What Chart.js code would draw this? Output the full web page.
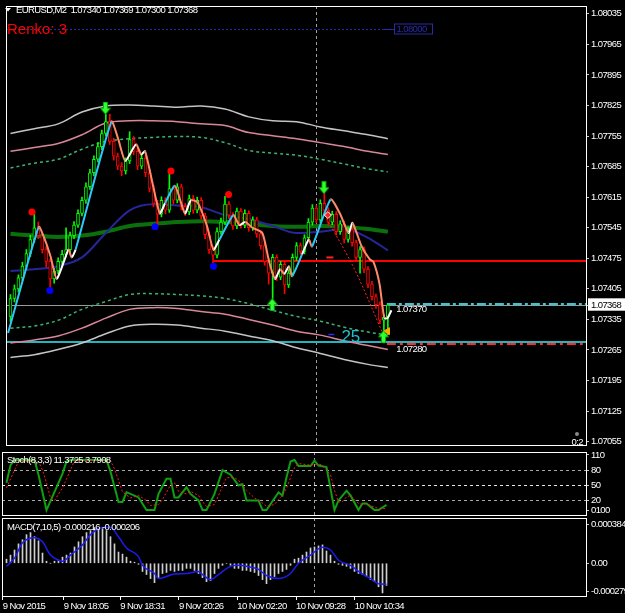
<!DOCTYPE html>
<html>
<head>
<meta charset="utf-8">
<title>EURUSD,M2</title>
<script src="https://cdn.jsdelivr.net/npm/chart.js@4.4.1/dist/chart.umd.min.js"></script>
<style>
  html, body { margin: 0; padding: 0; background: #000000; }
  body { position: relative; width: 625px; height: 613px; overflow: hidden; }
  canvas { position: absolute; left: 0; }
</style>
</head>
<body>
<canvas id="mainChart" width="625" height="452" style="top:0;width:625px;height:452px"></canvas>
<canvas id="stochChart" width="625" height="69" style="top:449px;width:625px;height:69px"></canvas>
<canvas id="macdChart" width="625" height="95" style="top:518px;width:625px;height:95px"></canvas>
<script>
// ---- data (bar index 0 = first visible M2 bar) ----
const timeLabels = ['9 Nov 2015', '9 Nov 18:05', '9 Nov 18:31', '9 Nov 20:26', '10 Nov 02:20', '10 Nov 09:28', '10 Nov 10:34'];
const timeTickBars = [-0.95, 14.3, 28.45, 43.1, 57.7, 72.4, 87.05];

const priceTicks = [1.08035, 1.07965, 1.07895, 1.07825, 1.07755, 1.07685, 1.07615, 1.07545,
    1.07475, 1.07405, 1.07368, 1.07335, 1.07265, 1.07195, 1.07125, 1.07055];
const bidPrice = 1.07368;

const opens = [1.07342, 1.07383, 1.07405, 1.07430, 1.07457, 1.07486, 1.07518, 1.07545, 1.07527, 1.07495,
    1.07468, 1.07428, 1.07446, 1.07468, 1.07484, 1.07495, 1.07527, 1.07551, 1.07578, 1.07608,
    1.07639, 1.07671, 1.07702, 1.07731, 1.07761, 1.07788, 1.07743, 1.07709, 1.07686, 1.07675,
    1.07698, 1.07747, 1.07720, 1.07686, 1.07704, 1.07671, 1.07635, 1.07601, 1.07576, 1.07608,
    1.07585, 1.07635, 1.07608, 1.07639, 1.07594, 1.07581, 1.07612, 1.07585, 1.07608, 1.07572,
    1.07529, 1.07495, 1.07482, 1.07536, 1.07558, 1.07599, 1.07574, 1.07549, 1.07583, 1.07551,
    1.07578, 1.07545, 1.07563, 1.07531, 1.07504, 1.07468, 1.07441, 1.07477, 1.07432, 1.07461,
    1.07414, 1.07441, 1.07477, 1.07504, 1.07491, 1.07522, 1.07558, 1.07590, 1.07563, 1.07601,
    1.07585, 1.07558, 1.07576, 1.07536, 1.07554, 1.07518, 1.07540, 1.07511, 1.07477, 1.07495,
    1.07450, 1.07416, 1.07387, 1.07369, 1.07333, 1.07340];
const highs = [1.07392, 1.07414, 1.07437, 1.07466, 1.07495, 1.07528, 1.07581, 1.07558, 1.07534, 1.07502,
    1.07474, 1.07452, 1.07476, 1.07493, 1.07545, 1.07535, 1.07559, 1.07586, 1.07615, 1.07648,
    1.07679, 1.07710, 1.07740, 1.07769, 1.07805, 1.07805, 1.07750, 1.07716, 1.07694, 1.07705,
    1.07765, 1.07754, 1.07727, 1.07712, 1.07710, 1.07678, 1.07642, 1.07608, 1.07616, 1.07614,
    1.07675, 1.07641, 1.07646, 1.07645, 1.07601, 1.07620, 1.07619, 1.07615, 1.07614, 1.07578,
    1.07535, 1.07501, 1.07545, 1.07567, 1.07617, 1.07605, 1.07580, 1.07590, 1.07589, 1.07586,
    1.07584, 1.07570, 1.07569, 1.07537, 1.07510, 1.07474, 1.07484, 1.07483, 1.07468, 1.07467,
    1.07449, 1.07485, 1.07511, 1.07510, 1.07529, 1.07566, 1.07598, 1.07596, 1.07609, 1.07637,
    1.07591, 1.07583, 1.07582, 1.07561, 1.07560, 1.07547, 1.07546, 1.07517, 1.07502, 1.07501,
    1.07456, 1.07422, 1.07393, 1.07375, 1.07346, 1.07369];
const lows = [1.07330, 1.07375, 1.07398, 1.07424, 1.07450, 1.07479, 1.07511, 1.07520, 1.07487, 1.07455,
    1.07400, 1.07418, 1.07440, 1.07461, 1.07478, 1.07489, 1.07520, 1.07546, 1.07572, 1.07601,
    1.07633, 1.07664, 1.07696, 1.07724, 1.07755, 1.07736, 1.07700, 1.07678, 1.07664, 1.07668,
    1.07692, 1.07712, 1.07678, 1.07680, 1.07662, 1.07627, 1.07593, 1.07547, 1.07570, 1.07577,
    1.07580, 1.07600, 1.07602, 1.07586, 1.07573, 1.07575, 1.07578, 1.07579, 1.07565, 1.07520,
    1.07486, 1.07459, 1.07476, 1.07530, 1.07552, 1.07566, 1.07541, 1.07543, 1.07544, 1.07545,
    1.07537, 1.07539, 1.07523, 1.07496, 1.07459, 1.07416, 1.07383, 1.07424, 1.07426, 1.07394,
    1.07408, 1.07435, 1.07470, 1.07484, 1.07485, 1.07516, 1.07551, 1.07556, 1.07557, 1.07578,
    1.07550, 1.07552, 1.07528, 1.07530, 1.07510, 1.07512, 1.07503, 1.07469, 1.07441, 1.07442,
    1.07408, 1.07379, 1.07360, 1.07325, 1.07281, 1.07300];
const closes = [1.07383, 1.07405, 1.07430, 1.07457, 1.07486, 1.07518, 1.07545, 1.07527, 1.07495, 1.07468,
    1.07428, 1.07446, 1.07468, 1.07484, 1.07495, 1.07527, 1.07551, 1.07578, 1.07608, 1.07639,
    1.07671, 1.07702, 1.07731, 1.07761, 1.07788, 1.07743, 1.07709, 1.07686, 1.07675, 1.07698,
    1.07747, 1.07720, 1.07686, 1.07704, 1.07671, 1.07635, 1.07601, 1.07576, 1.07608, 1.07585,
    1.07635, 1.07608, 1.07639, 1.07594, 1.07581, 1.07612, 1.07585, 1.07608, 1.07572, 1.07529,
    1.07495, 1.07482, 1.07536, 1.07558, 1.07599, 1.07574, 1.07549, 1.07583, 1.07551, 1.07578,
    1.07545, 1.07563, 1.07531, 1.07504, 1.07468, 1.07441, 1.07477, 1.07432, 1.07461, 1.07414,
    1.07441, 1.07477, 1.07504, 1.07491, 1.07522, 1.07558, 1.07590, 1.07563, 1.07601, 1.07585,
    1.07558, 1.07576, 1.07536, 1.07554, 1.07518, 1.07540, 1.07511, 1.07477, 1.07495, 1.07450,
    1.07416, 1.07387, 1.07369, 1.07333, 1.07340, 1.07368];

// envelope bands and moving averages, read every 6 bars
const bandBars = [0, 6, 12, 18, 24, 30, 36, 42, 48, 54, 60, 66, 72, 78, 84, 90, 95];
const bandOuterUp = [1.07761, 1.07772, 1.07783, 1.07810, 1.07824, 1.07826, 1.07824, 1.07821, 1.07824, 1.07817, 1.07799, 1.07790, 1.07788, 1.07776, 1.07767, 1.07758, 1.07749];
const bandMidUp = [1.07720, 1.07729, 1.07738, 1.07758, 1.07785, 1.07790, 1.07790, 1.07788, 1.07783, 1.07779, 1.07763, 1.07756, 1.07749, 1.07740, 1.07731, 1.07720, 1.07713];
const bandInnerUp = [1.07682, 1.07693, 1.07702, 1.07725, 1.07743, 1.07749, 1.07752, 1.07754, 1.07752, 1.07740, 1.07722, 1.07716, 1.07711, 1.07702, 1.07691, 1.07680, 1.07673];
const bandInnerDn = [1.07315, 1.07320, 1.07333, 1.07358, 1.07376, 1.07392, 1.07394, 1.07392, 1.07389, 1.07383, 1.07371, 1.07356, 1.07342, 1.07331, 1.07317, 1.07306, 1.07299];
const bandMidDn = [1.07281, 1.07288, 1.07297, 1.07315, 1.07338, 1.07358, 1.07362, 1.07360, 1.07353, 1.07347, 1.07335, 1.07322, 1.07308, 1.07299, 1.07286, 1.07275, 1.07266];
const bandOuterDn = [1.07248, 1.07254, 1.07266, 1.07281, 1.07302, 1.07320, 1.07324, 1.07322, 1.07315, 1.07308, 1.07297, 1.07286, 1.07270, 1.07257, 1.07243, 1.07232, 1.07225];
const maSlow = [1.07531, 1.07527, 1.07524, 1.07527, 1.07536, 1.07549, 1.07554, 1.07558, 1.07560, 1.07558, 1.07554, 1.07549, 1.07547, 1.07549, 1.07547, 1.07542, 1.07536];
const maFast = [1.07446, 1.07450, 1.07457, 1.07477, 1.07533, 1.07585, 1.07599, 1.07596, 1.07592, 1.07574, 1.07565, 1.07549, 1.07533, 1.07536, 1.07542, 1.07522, 1.07493];

// smoothed swing line
const swingBars = [-0.6, 7.1, 8.4, 10.1, 11.6, 13.4, 14.6, 15.4, 16.4, 25.4, 27.1, 28.9, 31.6, 32.9, 33.9, 35.9, 37.6,
    38.9, 41.4, 43.9, 45.4, 47.1, 49.4, 51.1, 52.6, 56.1, 57.6, 59.1, 60.9, 63.4, 65.1, 66.6, 67.9, 68.9, 70.1,
    70.9, 73.4, 75.1, 75.9, 80.6, 82.9, 85.1, 86.1, 88.4, 90.4, 91.4, 92.9, 94.1, 94.9, 95.9];
const swingPrices = [1.07304, 1.07547, 1.07524, 1.07479, 1.07428, 1.07466, 1.07495, 1.07477, 1.07495, 1.07788, 1.07749,
    1.07698, 1.07736, 1.07713, 1.07720, 1.07641, 1.07578, 1.07601, 1.07641, 1.07578, 1.07608, 1.07603, 1.07551,
    1.07495, 1.07518, 1.07574, 1.07551, 1.07558, 1.07545, 1.07533, 1.07468, 1.07428, 1.07450, 1.07439, 1.07457,
    1.07434, 1.07484, 1.07518, 1.07502, 1.07610, 1.07578, 1.07533, 1.07556, 1.07502, 1.07473, 1.07466, 1.07416,
    1.07338, 1.07338, 1.07356];
const projBars = [79.1, 86.6, 93.9];
const projPrices = [1.07574, 1.07450, 1.07299];

// signals
const fractalHighBars = [5.4, 40.4, 54.9];
const fractalHighPrices = [1.07581, 1.07675, 1.07621];
const fractalLowBars = [9.9, 36.4, 51.1];
const fractalLowPrices = [1.07401, 1.07547, 1.07457];
const sellArrowBars = [23.9, 78.9];
const sellArrowPrices = [1.07819, 1.07637];
const buyArrowBars = [65.9, 93.9];
const buyArrowPrices = [1.07369, 1.07295];

// levels
const roundLevel = 1.08000;
const roundLevelBar = 96.6;
const resistLevel = 1.07468;
const resistFromBar = 51.1;
const targetUp = 1.07370;
const targetDown = 1.07280;
const supportLevel = 1.07283;
const lastBar = 95;
const cursorBar = 77;
const countText = '25';
const countBar = 83.3;
const countPrice = 1.07295;

// stochastic (8,3,3)
const stochTicks = [110, 80, 50, 20, 0];
const stochTickLabels = ['110', '80', '50', '20', '0100'];
const stochLevels = [80, 50, 20];
const stochBars = [0, 1, 2, 7, 8, 10, 13, 14, 15, 16, 25, 26, 28, 29, 30, 31, 33, 35, 37, 38, 40, 41, 42, 43, 45, 46,
    48, 49, 50, 52, 54, 56, 58, 59, 60, 63, 64, 65, 68, 69, 70, 71, 72, 73, 76, 77, 78, 80, 82, 83, 85, 86, 88, 89, 90,
    92, 93, 95];
const stochMain = [55, 90, 100, 100, 71, 1, 55, 73, 97, 100, 100, 77, 17, 17, 36, 33, 26, 1, 1, 33, 63, 63, 26, 26, 46, 33,
    20, 1, 1, 33, 80, 71, 50, 52, 20, 20, 1, 1, 36, 30, 66, 97, 100, 88, 88, 99, 89, 86, 1, 20, 39, 30, 1, 14, 14,
    1, 1, 11.3725];
const stochSignalBars = [0, 2, 3, 8, 9, 10, 11, 12, 14, 16, 17, 26, 27, 28, 29, 31, 33, 35, 36, 38, 39, 41, 42, 43, 45, 46,
    48, 49, 50, 52, 54, 55, 57, 58, 60, 62, 64, 65, 67, 68, 69, 70, 71, 72, 73, 76, 78, 79, 81, 82, 83, 84, 85, 86, 87,
    88, 89, 90, 91, 93, 95];
const stochSignal = [45, 80, 97, 97, 80, 55, 25, 20, 45, 80, 99, 99, 82, 60, 37, 25, 30, 20, 10, 12, 22, 50, 55, 38, 33, 38,
    30, 18, 8, 12, 48, 65, 65, 60, 40, 25, 15, 8, 12, 22, 30, 44, 65, 85, 93, 90, 92, 90, 71, 40, 17, 18, 27, 30, 22,
    14, 12, 14, 10, 4, 3.7908];

// MACD (7,10,5)
const macdTicks = [0.000384, 0, -0.000279];
const macdTickLabels = ['0.000384', '0.00', '-0.000279'];
const macdHist = [0.00004, 0.00008, 0.00013, 0.00019, 0.00023, 0.00028, 0.00030, 0.00026, 0.00022, 0.00010,
    0.00002, 0.00000, 0.00002, 0.00003, 0.00006, 0.00008, 0.00010, 0.00016, 0.00021, 0.00026,
    0.00030, 0.00032, 0.00035, 0.00034, 0.00034, 0.00032, 0.00026, 0.00019, 0.00011, 0.00009,
    0.00006, 0.00002, 0.00001, -0.00001, -0.00008, -0.00011, -0.00015, -0.00019, -0.00014, -0.00010,
    -0.00009, -0.00007, -0.00008, -0.00007, -0.00007, -0.00005, -0.00005, -0.00007, -0.00010, -0.00014,
    -0.00018, -0.00017, -0.00010, -0.00005, -0.00002, 0.00000, -0.00002, -0.00005, -0.00005, -0.00007,
    -0.00007, -0.00008, -0.00009, -0.00012, -0.00016, -0.00020, -0.00016, -0.00013, -0.00010, -0.00008,
    -0.00006, -0.00002, 0.00004, 0.00005, 0.00008, 0.00011, 0.00015, 0.00016, 0.00017, 0.00018,
    0.00012, 0.00008, 0.00002, -0.00001, -0.00002, -0.00003, -0.00005, -0.00008, -0.00010, -0.00011,
    -0.00013, -0.00016, -0.00018, -0.00023, -0.00029, -0.000216];
const macdSignalBars = [0, 2, 4, 7, 9, 11, 13, 14, 16, 19, 21, 24, 26, 28, 30, 33, 34, 37, 38, 42, 45, 48, 49, 51, 53,
    56, 58, 60, 63, 65, 68, 71, 73, 76, 79, 81, 83, 86, 88, 91, 93, 95];
const macdSignal = [-0.00003, 0.00005, 0.00020, 0.00025, 0.00021, 0.00008, 0.00003, 0.00002, 0.00008, 0.00018, 0.00028,
    0.00035, 0.00035, 0.00026, 0.00015, 0.000065, -0.00002, -0.00010, -0.00015, -0.000105, -0.00010, -0.00008, -0.00011,
    -0.00016, -0.00011, -0.00003, -0.00002, -0.00003, -0.00006, -0.00012, -0.00015, -0.00010, 0.00000, 0.00008,
    0.000156, 0.00013, 0.00003, -0.00002, -0.00008, -0.00015, -0.00020, -0.000206];

// ---- look ----
const FONT_FAMILY = '"Liberation Sans", Arial, sans-serif';
const AXIS_FONT = { family: FONT_FAMILY, size: 9.5 };
const TIGHT = '-0.6px';
Chart.defaults.font.family = FONT_FAMILY;
Chart.defaults.color = '#ffffff';

const pts = (xs, ys) => xs.map((x, i) => ({ x: x, y: ys[i] }));

function barAxis() {
    return { type: 'linear', min: -1.125, max: 144.875, offset: false, display: false, grid: { display: false } };
}

function valueAxis(ticks, labels, min, max, extra) {
    return Object.assign({
        type: 'linear', position: 'right', min: min, max: max,
        afterFit: s => { s.width = 39; s.paddingTop = 0; s.paddingBottom = 0; },
        afterBuildTicks: s => { s.ticks = ticks.map(v => ({ value: v })); },
        grid: { drawOnChartArea: false, drawTicks: true, tickLength: 3, tickColor: '#c8c8c8' },
        border: { display: false },
        ticks: { autoSkip: false, padding: 2, color: '#ffffff', font: AXIS_FONT, callback: (v, i) => labels[i] }
    }, extra || {});
}

function row(scale, v) { return Math.floor(scale.getPixelForValue(v)) + 0.5; }

function hLine(ctx, x1, x2, y, color, dash, width) {
    ctx.save();
    ctx.strokeStyle = color;
    ctx.lineWidth = width || 1;
    ctx.setLineDash(dash || []);
    ctx.beginPath(); ctx.moveTo(x1, y); ctx.lineTo(x2, y); ctx.stroke();
    ctx.restore();
}

function label(ctx, text, x, y, color, size, align, spacing) {
    ctx.save();
    ctx.font = size + 'px ' + FONT_FAMILY;
    ctx.letterSpacing = spacing || TIGHT;
    ctx.fillStyle = color;
    ctx.textAlign = align || 'left';
    ctx.textBaseline = 'middle';
    ctx.fillText(text, x, y);
    ctx.restore();
}

function arrowIcon(down) {
    const c = document.createElement('canvas');
    c.width = 11; c.height = 13;
    const g = c.getContext('2d');
    g.save();
    if (!down) { g.translate(0, 13); g.scale(1, -1); }
    g.beginPath();
    g.moveTo(3.5, 0.5); g.lineTo(7.5, 0.5); g.lineTo(7.5, 6.5); g.lineTo(10.5, 6.5);
    g.lineTo(5.5, 12.5); g.lineTo(0.5, 6.5); g.lineTo(3.5, 6.5); g.closePath();
    g.fillStyle = '#33ff33'; g.fill();
    g.strokeStyle = '#00b000'; g.lineWidth = 1; g.stroke();
    g.restore();
    return c;
}

// tighter MT4-like lettering for axis text
const tightText = {
    id: 'tightText',
    beforeDraw(chart) { chart.ctx.letterSpacing = TIGHT; }
};

// pane frame and the crosshair column
const paneFrame = {
    id: 'paneFrame',
    beforeDatasetsDraw(chart) {
        const { ctx, chartArea: a, scales: { x } } = chart;
        const px = Math.floor(x.getPixelForValue(cursorBar)) + 0.5;
        ctx.save();
        ctx.strokeStyle = '#a0a0a0'; ctx.lineWidth = 1; ctx.setLineDash([3, 3]);
        ctx.beginPath(); ctx.moveTo(px, a.top); ctx.lineTo(px, a.bottom); ctx.stroke();
        ctx.restore();
    },
    afterDraw(chart) {
        const { ctx, chartArea: a } = chart;
        ctx.save();
        ctx.strokeStyle = '#ffffff'; ctx.lineWidth = 1;
        ctx.strokeRect(a.left + 0.5, a.top + 0.5, a.right - a.left, a.bottom - a.top - 1);
        ctx.restore();
    }
};

const mainOverlay = {
    id: 'mainOverlay',
    beforeDatasetsDraw(chart) {
        const { ctx, chartArea: a, scales: { x, y } } = chart;
        const endX = x.getPixelForValue(lastBar) - 1;
        // round level with its price box
        const ry = row(y, roundLevel);
        const boxX = Math.floor(x.getPixelForValue(roundLevelBar)) + 0.5;
        hLine(ctx, a.left, boxX - 11, ry, '#2a2aa8', [2, 2]);
        hLine(ctx, boxX - 11, boxX, ry, '#2a2aa8');
        ctx.save();
        ctx.strokeStyle = '#2a2aa8'; ctx.strokeRect(boxX, ry - 5.5, 38, 10);
        ctx.restore();
        label(ctx, roundLevel.toFixed(5), boxX + 2, ry, '#2a2aa8', 9.5);
        // levels
        hLine(ctx, x.getPixelForValue(resistFromBar), a.right, Math.round(y.getPixelForValue(resistLevel)), '#ff0000', [], 2);
        hLine(ctx, a.left, a.right, row(y, bidPrice), '#9a9a9a');
        hLine(ctx, endX, a.right, Math.round(y.getPixelForValue(targetUp)), '#2ec8d8', [9, 3, 3, 3], 2);
        hLine(ctx, a.left, a.right, Math.round(y.getPixelForValue(supportLevel)), '#22b4c0', [], 2);
        hLine(ctx, endX, a.right, Math.round(y.getPixelForValue(targetDown)) + 1, '#ff2a2a', [9, 4, 3, 4], 2);
    },
    afterDatasetsDraw(chart) {
        const { ctx, chartArea: a, scales: { x, y } } = chart;
        // header
        ctx.save();
        ctx.fillStyle = '#ffffff';
        ctx.beginPath(); ctx.moveTo(5, 8); ctx.lineTo(11, 8); ctx.lineTo(8, 11.5); ctx.closePath(); ctx.fill();
        ctx.restore();
        label(ctx, 'EURUSD,M2  ' + [opens[lastBar], highs[lastBar], lows[lastBar], closes[lastBar]].map(v => v.toFixed(5)).join(' '), 16, 10, '#ffffff', 9.5);
        label(ctx, 'Renko: 3', 7, 30, '#ff0000', 15, 'left', '0px');
        // level captions
        const tx = x.getPixelForValue(lastBar) + 8.5;
        label(ctx, targetUp.toFixed(5), tx, y.getPixelForValue(targetUp) + 5, '#ffffff', 9.5);
        label(ctx, targetDown.toFixed(5), tx, y.getPixelForValue(targetDown) + 6, '#ffffff', 9.5);
        label(ctx, countText, x.getPixelForValue(countBar), y.getPixelForValue(countPrice), '#20c0d0', 17, 'left', '0px');
        hLine(ctx, x.getPixelForValue(countBar) - 13, x.getPixelForValue(countBar) - 7, row(y, countPrice) - 2, '#2a2aff', [], 1.5);
        // timer
        ctx.save();
        ctx.fillStyle = '#8a8a8a';
        ctx.beginPath(); ctx.arc(577, 434, 2, 0, Math.PI * 2); ctx.fill();
        ctx.restore();
        label(ctx, '0:2', a.right - 3, 442, '#ffffff', 9.5, 'right');
    }
};

const upColor = '#00ff00', downColor = '#ff0000';
const candleColor = ctx => closes[ctx.dataIndex] >= opens[ctx.dataIndex] ? upColor : downColor;
const swingColor = ctx => {
    const d = ctx.p1.parsed.y - ctx.p0.parsed.y;
    if (d < 0) return '#ff8a6a';
    return d >= 0.0004 ? '#2ec8f8' : '#ffffff';
};

const lineSet = (data, color, width, extra) => Object.assign({
    type: 'line', data: data, borderColor: color, borderWidth: width, pointRadius: 0, fill: false, tension: 0.35
}, extra || {});

new Chart(document.getElementById('mainChart'), {
    type: 'bar',
    data: {
        datasets: [
            // markers (on top)
            { type: 'line', order: 0, showLine: false, data: pts(sellArrowBars, sellArrowPrices), pointStyle: arrowIcon(true) },
            { type: 'line', order: 0, showLine: false, data: pts(buyArrowBars, buyArrowPrices), pointStyle: arrowIcon(false) },
            { type: 'line', order: 0, showLine: false, data: pts(fractalHighBars, fractalHighPrices), pointStyle: 'circle', pointRadius: 3.5, pointBackgroundColor: '#ff0000', pointBorderColor: '#ff0000', pointBorderWidth: 0 },
            { type: 'line', order: 0, showLine: false, data: pts(fractalLowBars, fractalLowPrices), pointStyle: 'circle', pointRadius: 3.5, pointBackgroundColor: '#0000ff', pointBorderColor: '#0000ff', pointBorderWidth: 0 },
            { type: 'line', order: 0, showLine: false, data: [{ x: 79.9, y: 1.07574 }], pointStyle: 'rectRot', pointRadius: 3.5, pointBackgroundColor: '#ff2020', pointBorderColor: '#ffffff', pointBorderWidth: 1 },
            { type: 'line', order: 0, showLine: false, data: [{ x: 94.9, y: 1.07308 }], pointStyle: 'triangle', rotation: -90, pointRadius: 4, pointBackgroundColor: '#ffa500', pointBorderColor: '#ffa500' },
            { type: 'line', order: 0, showLine: false, data: [{ x: 80.4, y: 1.07477 }], pointStyle: 'line', pointRadius: 3.5, pointBorderColor: '#ff2020', pointBorderWidth: 2 },
            // swing line and projection
            lineSet(pts(swingBars, swingPrices), '#ffffff', 2, { order: 1, tension: 0.2, segment: { borderColor: swingColor } }),
            lineSet(pts(projBars, projPrices), '#ff2020', 1, { order: 1, borderDash: [2, 2] }),
            // candles
            { order: 2, grouped: false, barThickness: 3, borderWidth: 1, borderSkipped: false,
              data: closes.map((c, i) => ({ x: i, y: [opens[i], c] })),
              backgroundColor: '#000000', borderColor: candleColor },
            { order: 3, grouped: false, barThickness: 1, borderWidth: 0,
              data: closes.map((c, i) => ({ x: i, y: [lows[i], highs[i]] })),
              backgroundColor: candleColor },
            // moving averages
            lineSet(pts(bandBars, maFast), '#26269a', 2, { order: 4, cubicInterpolationMode: 'monotone' }),
            lineSet(pts(bandBars, maSlow), '#0b700b', 4, { order: 5, cubicInterpolationMode: 'monotone' }),
            // envelopes
            lineSet(pts(bandBars, bandOuterUp), '#c4c4c4', 1.5, { order: 6 }),
            lineSet(pts(bandBars, bandMidUp), '#d8879a', 1.5, { order: 6 }),
            lineSet(pts(bandBars, bandInnerUp), '#3cb371', 1.5, { order: 6, borderDash: [3, 3] }),
            lineSet(pts(bandBars, bandInnerDn), '#3cb371', 1.5, { order: 6, borderDash: [3, 3] }),
            lineSet(pts(bandBars, bandMidDn), '#d8879a', 1.5, { order: 6 }),
            lineSet(pts(bandBars, bandOuterDn), '#c4c4c4', 1.5, { order: 6 })
        ]
    },
    options: {
        responsive: false, animation: false, events: [],
        layout: { padding: { left: 2, top: 2, right: 0, bottom: 2 } },
        plugins: { legend: { display: false }, tooltip: { enabled: false } },
        scales: {
            x: barAxis(),
            y: valueAxis(priceTicks, priceTicks.map(v => v.toFixed(5)), 1.07045, 1.08053, {
                ticks: {
                    autoSkip: false, padding: 2, font: AXIS_FONT,
                    color: ctx => ctx.tick && ctx.tick.value === bidPrice ? '#000000' : '#ffffff',
                    showLabelBackdrop: ctx => !!(ctx.tick && ctx.tick.value === bidPrice),
                    backdropColor: '#ffffff',
                    backdropPadding: { left: 3, right: 6, top: 1, bottom: 0 },
                    callback: v => v.toFixed(5)
                }
            })
        }
    },
    plugins: [tightText, paneFrame, mainOverlay]
});

const stochOverlay = {
    id: 'stochOverlay',
    beforeDatasetsDraw(chart) {
        const { ctx, chartArea: a, scales: { y } } = chart;
        stochLevels.forEach(v => hLine(ctx, a.left, a.right, row(y, v), v === 50 ? '#e8e8e8' : '#a8a8a8', [3, 3]));
    },
    afterDatasetsDraw(chart) {
        const a = chart.chartArea;
        label(chart.ctx, 'Stoch(8,3,3) ' + stochMain[stochMain.length - 1].toFixed(4) + ' ' + stochSignal[stochSignal.length - 1].toFixed(4), 7, a.top + 8, '#ffffff', 9.5);
    }
};

new Chart(document.getElementById('stochChart'), {
    type: 'line',
    data: {
        datasets: [
            lineSet(pts(stochSignalBars, stochSignal), '#ff1a1a', 1, { borderDash: [2, 2], tension: 0 }),
            lineSet(pts(stochBars, stochMain), '#0fa00f', 2, { tension: 0 })
        ]
    },
    options: {
        responsive: false, animation: false, events: [],
        layout: { padding: { left: 2, top: 3, right: 0, bottom: 2 } },
        plugins: { legend: { display: false }, tooltip: { enabled: false } },
        scales: {
            x: barAxis(),
            y: valueAxis(stochTicks, stochTickLabels, -10.7, 115.9)
        }
    },
    plugins: [tightText, paneFrame, stochOverlay]
});

const macdOverlay = {
    id: 'macdOverlay',
    afterDatasetsDraw(chart) {
        label(chart.ctx, 'MACD(7,10,5) ' + macdHist[macdHist.length - 1].toFixed(6) + ' ' + macdSignal[macdSignal.length - 1].toFixed(6), 7, 9, '#ffffff', 9.5);
    }
};

new Chart(document.getElementById('macdChart'), {
    type: 'bar',
    data: {
        datasets: [
            lineSet(pts(macdSignalBars, macdSignal), '#1c1cf0', 1.5, { order: 0, tension: 0.4, cubicInterpolationMode: 'monotone' }),
            { order: 1, barThickness: 1, grouped: false, borderWidth: 0, backgroundColor: '#cfcfcf',
              data: macdHist.map((v, i) => ({ x: i, y: v })) }
        ]
    },
    options: {
        responsive: false, animation: false, events: [],
        layout: { padding: { left: 2, top: 0, right: 0, bottom: 0 } },
        plugins: { legend: { display: false }, tooltip: { enabled: false } },
        scales: {
            x: {
                type: 'linear', min: -1.125, max: 144.875, offset: false, position: 'bottom',
                afterBuildTicks: s => { s.ticks = timeTickBars.map(v => ({ value: v })); },
                afterFit: s => { s.height = 16; s.paddingLeft = 0; s.paddingRight = 0; },
                grid: { drawOnChartArea: false, drawTicks: true, tickLength: 3, tickColor: '#ffffff', offset: false },
                border: { display: false },
                ticks: { autoSkip: false, maxRotation: 0, minRotation: 0, align: 'start', padding: 1, color: '#ffffff', font: AXIS_FONT, callback: (v, i) => timeLabels[i] }
            },
            y: valueAxis(macdTicks, macdTickLabels, -0.00033, 0.000443)
        }
    },
    plugins: [tightText, paneFrame, macdOverlay]
});
</script>
</body>
</html>
